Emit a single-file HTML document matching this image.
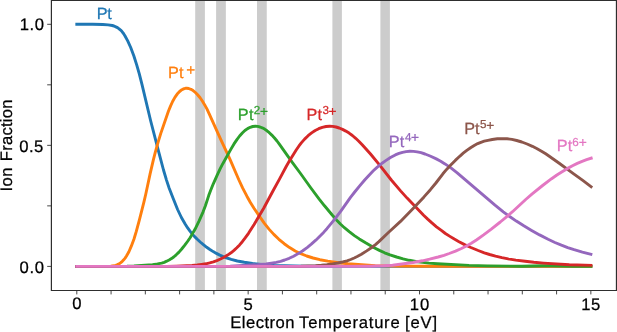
<!DOCTYPE html>
<html><head><meta charset="utf-8"><style>
html,body{margin:0;padding:0;background:#fff;width:617px;height:332px;overflow:hidden}
svg{display:block;will-change:transform}
text{font-family:"Liberation Sans",sans-serif;text-rendering:geometricPrecision}
</style></head><body>
<svg width="617" height="332" viewBox="0 0 617 332">
<rect width="617" height="332" fill="#fff"/>
<g fill="#cccccc" >
<rect x="195.20" y="0" width="9.70" height="290.5"/>
<rect x="216.10" y="0" width="9.75" height="290.5"/>
<rect x="257.00" y="0" width="9.75" height="290.5"/>
<rect x="332.40" y="0" width="9.50" height="290.5"/>
<rect x="380.40" y="0" width="9.50" height="290.5"/>
</g>
<g fill="none" stroke-width="2.9" stroke-linecap="square" stroke-linejoin="round" >
<path d="M76.8,24.3 L92.6,24.3 L102.8,24.5 L108.2,24.9 L112.2,25.5 L114.0,26.0 L115.8,26.8 L117.5,27.6 L119.1,28.8 L120.6,30.1 L122.0,31.6 L123.5,33.5 L124.9,35.7 L127.7,40.9 L130.7,47.5 L133.8,55.8 L136.7,64.9 L139.3,73.8 L141.9,84.1 L150.7,121.0 L158.9,152.7 L163.5,170.0 L166.5,180.1 L169.2,188.2 L173.1,198.2 L177.6,209.5 L181.4,217.5 L185.3,224.3 L187.5,227.7 L189.8,230.9 L192.1,233.8 L194.6,236.6 L197.3,239.3 L200.2,242.0 L203.4,244.7 L206.7,247.3 L209.9,249.5 L213.2,251.6 L216.4,253.4 L219.8,255.1 L225.4,257.5 L231.2,259.4 L237.3,261.0 L244.3,262.3 L252.5,263.5 L261.9,264.5 L274.2,265.4 L284.5,265.8 L305.7,266.2 L339.7,266.4 L590.9,266.4" stroke="#1f77b4"/>
<path d="M76.8,266.4 L107.2,266.4 L110.8,266.2 L113.8,265.8 L115.7,265.3 L117.5,264.6 L119.2,263.7 L120.8,262.6 L122.3,261.3 L123.7,259.8 L125.1,258.1 L126.5,256.0 L128.9,251.7 L131.4,245.9 L134.0,239.0 L136.3,231.4 L139.4,219.8 L143.9,202.1 L145.8,194.0 L150.1,173.9 L153.3,160.2 L155.2,152.6 L157.9,142.8 L160.7,133.6 L168.4,111.3 L170.5,106.1 L172.6,101.5 L174.9,97.4 L177.2,94.1 L179.6,91.5 L181.9,89.7 L183.1,89.1 L184.3,88.6 L185.5,88.3 L186.7,88.2 L188.7,88.5 L190.9,89.3 L193.1,90.6 L195.4,92.5 L197.6,94.8 L200.1,97.8 L202.5,101.3 L204.7,104.9 L206.9,108.9 L209.1,113.6 L220.6,139.1 L229.9,159.2 L238.7,179.5 L242.7,188.1 L246.9,196.2 L250.4,202.5 L254.0,208.2 L259.5,216.4 L264.4,223.3 L269.0,229.1 L273.8,234.4 L278.9,239.3 L284.2,243.7 L289.6,247.6 L295.2,251.0 L300.8,253.7 L306.7,256.0 L313.1,258.0 L319.9,259.7 L327.8,261.1 L338.7,262.7 L347.9,263.7 L361.6,264.8 L375.3,265.6 L394.0,266.1 L425.9,266.3 L590.9,266.4" stroke="#ff7f0e"/>
<path d="M76.8,266.4 L127.0,266.3 L134.0,266.0 L152.5,264.7 L155.9,264.3 L158.9,263.7 L161.7,263.1 L164.2,262.3 L166.7,261.2 L169.1,260.0 L171.5,258.6 L173.7,257.0 L176.2,254.8 L179.0,252.1 L181.7,249.0 L184.6,245.4 L187.5,241.5 L190.1,237.7 L192.6,233.5 L195.0,229.3 L199.0,221.1 L203.1,211.8 L205.4,205.7 L208.7,195.6 L210.6,190.6 L213.3,183.8 L217.3,174.8 L220.1,168.9 L222.8,163.7 L230.8,149.4 L234.0,143.9 L236.9,139.6 L239.6,136.0 L242.3,133.0 L244.9,130.5 L247.6,128.6 L250.2,127.3 L252.7,126.5 L255.4,126.2 L257.6,126.4 L260.0,127.0 L262.2,127.8 L264.6,129.1 L267.0,130.8 L269.3,132.7 L271.8,135.1 L274.5,138.0 L277.0,141.0 L279.5,144.4 L291.9,161.9 L299.8,172.5 L310.9,188.0 L319.0,198.8 L324.5,205.8 L332.2,215.0 L336.5,219.9 L340.4,224.0 L344.4,227.7 L349.2,231.6 L354.4,235.6 L359.3,238.9 L365.6,242.8 L373.2,247.2 L379.4,250.4 L384.6,252.8 L390.0,254.9 L396.6,257.0 L403.1,258.9 L409.2,260.3 L415.7,261.5 L422.6,262.4 L429.1,263.1 L437.5,263.7 L469.0,265.4 L487.2,265.9 L522.0,266.2 L542.4,265.8 L551.7,265.8 L574.1,266.2 L590.9,266.3" stroke="#2ca02c"/>
<path d="M76.8,266.4 L166.8,266.4 L176.2,266.1 L192.0,265.4 L197.3,265.0 L201.7,264.4 L205.8,263.8 L209.7,262.9 L213.4,261.8 L216.9,260.6 L220.5,259.0 L224.0,257.2 L227.6,255.1 L231.0,252.8 L234.0,250.4 L236.8,247.8 L239.6,244.9 L242.3,241.7 L245.2,237.9 L248.5,233.3 L254.1,224.5 L263.7,208.3 L272.8,191.3 L279.6,178.9 L286.2,166.5 L289.2,161.2 L296.2,150.0 L298.8,146.2 L301.3,142.9 L304.6,139.1 L308.1,135.7 L311.6,132.9 L315.2,130.5 L318.7,128.7 L322.3,127.3 L326.0,126.5 L329.6,126.2 L332.7,126.4 L336.0,127.0 L339.2,128.0 L342.5,129.4 L345.8,131.1 L349.1,133.1 L352.4,135.5 L355.7,138.3 L358.8,141.2 L362.2,144.7 L370.3,153.8 L379.5,164.9 L391.3,180.0 L400.8,191.1 L407.1,198.1 L423.6,215.2 L427.7,219.1 L431.9,222.9 L436.5,226.8 L441.0,230.2 L445.4,233.5 L449.9,236.4 L454.3,239.1 L459.0,241.7 L464.6,244.6 L470.9,247.5 L478.2,250.5 L484.3,252.8 L489.6,254.5 L495.5,256.1 L501.9,257.6 L508.2,258.9 L515.8,260.1 L525.1,261.3 L533.8,262.3 L543.6,263.1 L569.3,264.7 L590.9,265.3" stroke="#d62728"/>
<path d="M76.8,266.4 L215.1,266.4 L230.2,266.3 L257.5,264.7 L266.1,264.0 L271.4,263.2 L276.2,262.4 L280.6,261.3 L284.7,260.0 L289.2,258.3 L293.6,256.2 L298.3,253.6 L302.8,250.7 L307.1,247.6 L311.3,244.2 L315.8,240.2 L320.3,235.8 L323.6,232.4 L326.9,228.7 L334.4,219.6 L341.0,210.9 L350.5,197.3 L354.7,192.0 L359.9,185.6 L364.9,179.7 L369.3,174.9 L373.3,170.8 L377.3,167.1 L381.7,163.5 L386.1,160.4 L390.9,157.3 L395.3,154.9 L399.0,153.4 L402.5,152.3 L406.1,151.6 L409.9,151.3 L413.5,151.4 L417.2,151.9 L421.0,152.7 L425.0,154.0 L430.1,156.0 L436.3,158.9 L440.7,161.2 L445.0,163.9 L450.9,167.9 L457.2,172.8 L495.0,205.1 L503.3,211.8 L510.0,216.8 L516.3,221.1 L523.8,225.8 L531.6,230.4 L539.6,234.9 L548.1,239.3 L554.9,242.5 L561.4,245.2 L567.7,247.6 L574.1,249.7 L582.4,252.1 L590.9,254.3" stroke="#9467bd"/>
<path d="M76.8,266.4 L269.6,266.4 L300.8,266.2 L315.5,265.6 L321.4,265.2 L326.9,264.7 L332.5,263.9 L337.9,263.0 L342.7,261.9 L347.0,260.8 L350.7,259.5 L354.2,258.0 L357.7,256.3 L361.4,254.3 L366.7,250.9 L371.7,247.5 L375.5,244.6 L378.9,241.6 L388.7,232.2 L400.5,221.4 L414.3,207.3 L424.0,196.9 L430.4,189.7 L435.9,183.0 L442.9,173.8 L446.6,169.4 L450.5,165.3 L455.3,160.4 L459.7,156.3 L463.2,153.2 L466.8,150.4 L470.6,147.7 L474.2,145.5 L477.7,143.6 L480.9,142.3 L484.2,141.2 L488.0,140.3 L492.2,139.5 L497.4,138.8 L502.2,138.6 L507.1,138.8 L511.9,139.4 L516.7,140.5 L521.8,142.0 L527.1,144.0 L532.4,146.3 L536.7,148.5 L541.1,151.0 L545.7,153.8 L550.7,157.2 L559.2,163.2 L573.7,173.9 L583.1,180.7 L591.1,186.7" stroke="#8c564b"/>
<path d="M76.8,266.4 L333.3,266.4 L369.2,266.2 L383.7,265.8 L392.6,265.2 L413.0,262.5 L422.5,260.8 L429.6,259.2 L438.2,257.0 L444.0,255.3 L449.2,253.5 L455.5,251.1 L461.4,248.5 L466.5,246.0 L471.3,243.2 L476.8,239.7 L483.6,234.9 L491.3,229.1 L500.3,222.0 L506.2,217.1 L512.5,211.7 L525.7,199.5 L532.2,193.9 L542.6,185.5 L551.6,178.7 L556.9,175.0 L562.5,171.5 L567.6,168.4 L572.5,165.8 L577.3,163.4 L582.1,161.4 L586.6,159.7 L591.2,158.2" stroke="#e377c2"/>
</g>
<g stroke="#333" stroke-width="0.9" >
<line x1="76.80" y1="290.8" x2="76.80" y2="294.4"/>
<line x1="111.07" y1="290.8" x2="111.07" y2="294.4"/>
<line x1="145.34" y1="290.8" x2="145.34" y2="294.4"/>
<line x1="179.61" y1="290.8" x2="179.61" y2="294.4"/>
<line x1="213.88" y1="290.8" x2="213.88" y2="294.4"/>
<line x1="248.15" y1="290.8" x2="248.15" y2="294.4"/>
<line x1="282.42" y1="290.8" x2="282.42" y2="294.4"/>
<line x1="316.69" y1="290.8" x2="316.69" y2="294.4"/>
<line x1="350.96" y1="290.8" x2="350.96" y2="294.4"/>
<line x1="385.23" y1="290.8" x2="385.23" y2="294.4"/>
<line x1="419.50" y1="290.8" x2="419.50" y2="294.4"/>
<line x1="453.77" y1="290.8" x2="453.77" y2="294.4"/>
<line x1="488.04" y1="290.8" x2="488.04" y2="294.4"/>
<line x1="522.31" y1="290.8" x2="522.31" y2="294.4"/>
<line x1="556.58" y1="290.8" x2="556.58" y2="294.4"/>
<line x1="590.85" y1="290.8" x2="590.85" y2="294.4"/>
<line x1="47.2" y1="266.40" x2="51" y2="266.40"/>
<line x1="47.2" y1="205.87" x2="51" y2="205.87"/>
<line x1="47.2" y1="145.35" x2="51" y2="145.35"/>
<line x1="47.2" y1="84.82" x2="51" y2="84.82"/>
<line x1="47.2" y1="24.30" x2="51" y2="24.30"/>
</g>
<path d="M51.4,0.45 H616.45 V290.5 H51.4 Z" fill="none" stroke="#2e2e2e" stroke-width="1.2" stroke-linejoin="miter" />
<g style="filter:blur(0px)">
<text x="19.78" y="30.33" font-size="16.66" fill="#000000" stroke="#000000" stroke-width="0.25" textLength="24.14" lengthAdjust="spacing">1.0</text>
<text x="19.30" y="151.57" font-size="16.66" fill="#000000" stroke="#000000" stroke-width="0.25" textLength="23.95" lengthAdjust="spacing">0.5</text>
<text x="19.38" y="272.57" font-size="16.66" fill="#000000" stroke="#000000" stroke-width="0.25" textLength="24.75" lengthAdjust="spacing">0.0</text>
<text x="72.20" y="308.99" font-size="16.66" fill="#000000" stroke="#000000" stroke-width="0.25">0</text>
<text x="243.55" y="309.58" font-size="16.66" fill="#000000" stroke="#000000" stroke-width="0.25">5</text>
<text x="409.74" y="309.82" font-size="16.66" fill="#000000" stroke="#000000" stroke-width="0.25" textLength="19.63" lengthAdjust="spacing">10</text>
<text x="581.16" y="309.63" font-size="16.66" fill="#000000" stroke="#000000" stroke-width="0.25" textLength="19.05" lengthAdjust="spacing">15</text>
<text x="96.78" y="19.09" font-size="16.23" fill="#1f77b4" stroke="#1f77b4" stroke-width="0.25" textLength="15.08" lengthAdjust="spacing">Pt</text>
<text x="167.92" y="77.94" font-size="16.23" fill="#ff7f0e" stroke="#ff7f0e" stroke-width="0.25" textLength="15.67" lengthAdjust="spacing">Pt</text>
<text x="237.86" y="120.15" font-size="16.23" fill="#2ca02c" stroke="#2ca02c" stroke-width="0.25" textLength="15.71" lengthAdjust="spacing">Pt</text>
<text x="306.42" y="120.13" font-size="16.23" fill="#d62728" stroke="#d62728" stroke-width="0.25" textLength="15.54" lengthAdjust="spacing">Pt</text>
<text x="388.76" y="146.69" font-size="16.23" fill="#9467bd" stroke="#9467bd" stroke-width="0.25" textLength="15.56" lengthAdjust="spacing">Pt</text>
<text x="464.28" y="134.01" font-size="16.23" fill="#8c564b" stroke="#8c564b" stroke-width="0.25" textLength="15.21" lengthAdjust="spacing">Pt</text>
<text x="556.85" y="151.06" font-size="16.23" fill="#e377c2" stroke="#e377c2" stroke-width="0.25" textLength="15.31" lengthAdjust="spacing">Pt</text>
<text x="186.21" y="74.54" font-size="15.39" fill="#ff7f0e" stroke="#ff7f0e" stroke-width="0.25">+</text>
<text x="260.01" y="115.69" font-size="13.78" fill="#2ca02c" stroke="#2ca02c" stroke-width="0.25">+</text>
<text x="253.74" y="113.88" font-size="11.63" fill="#2ca02c" stroke="#2ca02c" stroke-width="0.25">2</text>
<text x="328.45" y="115.57" font-size="13.78" fill="#d62728" stroke="#d62728" stroke-width="0.25">+</text>
<text x="322.51" y="114.09" font-size="11.63" fill="#d62728" stroke="#d62728" stroke-width="0.25">3</text>
<text x="410.96" y="142.47" font-size="13.78" fill="#9467bd" stroke="#9467bd" stroke-width="0.25">+</text>
<text x="404.95" y="140.75" font-size="11.63" fill="#9467bd" stroke="#9467bd" stroke-width="0.25">4</text>
<text x="486.19" y="129.86" font-size="13.78" fill="#8c564b" stroke="#8c564b" stroke-width="0.25">+</text>
<text x="480.07" y="128.31" font-size="11.63" fill="#8c564b" stroke="#8c564b" stroke-width="0.25">5</text>
<text x="578.74" y="146.77" font-size="13.78" fill="#e377c2" stroke="#e377c2" stroke-width="0.25">+</text>
<text x="572.35" y="145.72" font-size="11.63" fill="#e377c2" stroke="#e377c2" stroke-width="0.25">6</text>
<text x="230.19" y="328.40" font-size="16.60" fill="#000000" stroke="#000000" stroke-width="0.25" textLength="64.40" lengthAdjust="spacing">Electron</text>
<text x="299.10" y="328.40" font-size="16.60" fill="#000000" stroke="#000000" stroke-width="0.25" textLength="100.51" lengthAdjust="spacing">Temperature</text>
<text x="405.11" y="328.40" font-size="16.60" fill="#000000" stroke="#000000" stroke-width="0.25" textLength="31.96" lengthAdjust="spacing">[eV]</text>
<text transform="translate(11.70,191.60) rotate(-90)" font-size="16.60" fill="#000000" stroke="#000000" stroke-width="0.25" textLength="24.07" lengthAdjust="spacing">Ion</text>
<text transform="translate(11.70,161.13) rotate(-90)" font-size="16.60" fill="#000000" stroke="#000000" stroke-width="0.25" textLength="61.53" lengthAdjust="spacing">Fraction</text>
</g>
</svg>
</body></html>
